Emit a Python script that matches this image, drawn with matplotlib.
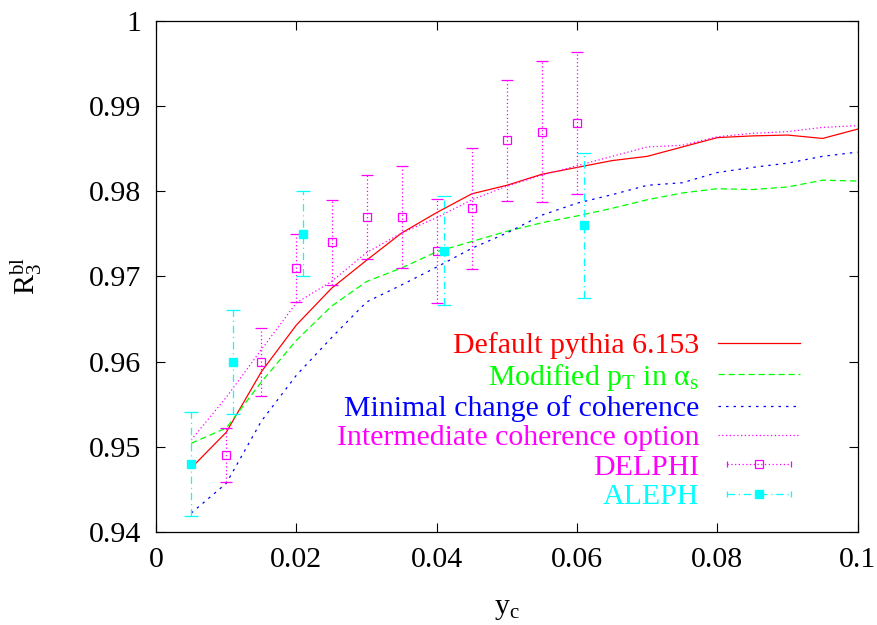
import matplotlib
matplotlib.use('Agg')
import matplotlib.pyplot as plt
from matplotlib.lines import Line2D
from matplotlib.legend_handler import HandlerLine2D, HandlerTuple

plt.rcParams['font.family'] = ['Liberation Serif', 'DejaVu Serif']
plt.rcParams['mathtext.fontset'] = 'custom'
plt.rcParams['mathtext.rm'] = 'Liberation Serif'
plt.rcParams['mathtext.it'] = 'Liberation Serif'

# y_cut values of the MC curves
yc = [0.005, 0.010, 0.015, 0.020, 0.025, 0.030, 0.035, 0.040, 0.045, 0.050,
      0.055, 0.060, 0.065, 0.070, 0.075, 0.080, 0.085, 0.090, 0.095, 0.100]

r_default = [0.9475, 0.9517, 0.9588, 0.9643, 0.9686, 0.9719, 0.9751, 0.9775, 0.9797, 0.9807,
             0.9820, 0.9828, 0.9836, 0.9841, 0.9852, 0.9863, 0.9865, 0.9866, 0.9862, 0.9873]
r_modpt = [0.9504, 0.9522, 0.9576, 0.9625, 0.9665, 0.9694, 0.9710, 0.9729, 0.9741, 0.9753,
           0.9763, 0.9771, 0.9780, 0.9790, 0.9798, 0.9803, 0.9802, 0.9805, 0.9813, 0.9812]
r_mincoh = [0.9422, 0.9457, 0.9530, 0.9584, 0.9628, 0.9670, 0.9690, 0.9711, 0.9733, 0.9751,
            0.9772, 0.9786, 0.9796, 0.9807, 0.9810, 0.9822, 0.9828, 0.9833, 0.9841, 0.9846]
r_intcoh = [0.9508, 0.9558, 0.9614, 0.9669, 0.9694, 0.9728, 0.9751, 0.9769, 0.9790, 0.9806,
            0.9819, 0.9830, 0.9841, 0.9852, 0.9854, 0.9864, 0.9868, 0.9870, 0.9875, 0.9877]

# DELPHI data
delphi_x = [0.010, 0.015, 0.020, 0.025, 0.030, 0.035, 0.040, 0.045, 0.050, 0.055, 0.060]
delphi_y = [0.949, 0.960, 0.971, 0.974, 0.977, 0.977, 0.973, 0.978, 0.986, 0.987, 0.988]
delphi_err = [0.0032, 0.0040, 0.0040, 0.0050, 0.0049, 0.0060, 0.0061, 0.0071, 0.0071, 0.0083, 0.0083]

# ALEPH data
aleph_x = [0.005, 0.011, 0.021, 0.041, 0.061]
aleph_y = [0.948, 0.960, 0.975, 0.973, 0.976]
aleph_err = [0.0061, 0.0061, 0.0050, 0.0064, 0.0085]

labels = ['Default pythia 6.153', r'Modified p$_\mathrm{T}$ in α$_\mathrm{s}$',
          'Minimal change of coherence', 'Intermediate coherence option',
          'DELPHI', 'ALEPH']
colors = ['#ff0000', '#00ff00', '#0000ff', '#ff00ff', '#ff00ff', '#00ffff']

fs = 21.5

fig = plt.figure(figsize=(8.77, 6.25), dpi=100)
ax = fig.add_axes([0.178, 0.149, 0.800, 0.8175])

lw = 0.9
l1, = ax.plot(yc, r_default, color=colors[0], lw=lw, ls='-')
l2, = ax.plot(yc, r_modpt, color=colors[1], lw=lw, ls=(0, (5, 3)))
l3, = ax.plot(yc, r_mincoh, color=colors[2], lw=lw, ls=(0, (2, 4)))
l4, = ax.plot(yc, r_intcoh, color=colors[3], lw=lw, ls=(0, (1, 2)))

ed = ax.errorbar(delphi_x, delphi_y, yerr=delphi_err, fmt='s', mfc='none', mec=colors[4],
                 ms=6, mew=0.9, ecolor=colors[4], elinewidth=lw, capsize=4, capthick=lw)
ed[2][0].set_linestyle((0, (1, 2)))
ea = ax.errorbar(aleph_x, aleph_y, yerr=aleph_err, fmt='s', mfc=colors[5], mec=colors[5],
                 ms=5.5, ecolor=colors[5], elinewidth=lw, capsize=5, capthick=lw)
ea[2][0].set_linestyle((0, (6, 3, 1, 3)))

ax.set_xlim(0, 0.1)
ax.set_ylim(0.94, 1.0)
ax.set_xticks([0, 0.02, 0.04, 0.06, 0.08, 0.1])
ax.set_xticklabels(['0', '0.02', '0.04', '0.06', '0.08', '0.1'])
ax.set_yticks([0.94, 0.95, 0.96, 0.97, 0.98, 0.99, 1.0])
ax.set_yticklabels(['0.94', '0.95', '0.96', '0.97', '0.98', '0.99', '1'])
ax.tick_params(direction='in', length=6.5, width=0.8, top=True, right=True,
               labelsize=fs, pad=11)
for s in ax.spines.values():
    s.set_linewidth(0.9)

ax.set_xlabel(r'y$_\mathrm{c}$', fontsize=fs)
ax.set_ylabel(r'R$_3^{\mathrm{bl}}$', fontsize=fs)
ax.xaxis.set_label_coords(0.5, -0.125)
ax.yaxis.set_label_coords(-0.160, 0.5)

# legend handles in gnuplot style
d_line = Line2D([], [], color=colors[4], lw=lw, ls=(0, (1, 2)), marker='|', ms=5, mew=lw)
d_mark = Line2D([], [], color=colors[4], ls='none', marker='s', mfc='none', ms=6, mew=0.9)
a_line = Line2D([], [], color=colors[5], lw=lw, ls=(0, (6, 3, 1, 3)), marker='|', ms=5, mew=lw)
a_mark = Line2D([], [], color=colors[5], ls='none', marker='s', ms=5.5)
handles = [l1, l2, l3, l4, (d_line, d_mark), (a_line, a_mark)]
hmap = {d_line: HandlerLine2D(numpoints=2), a_line: HandlerLine2D(numpoints=2),
        tuple: HandlerTuple(ndivide=1, pad=0)}
leg = ax.legend(handles, labels, handler_map=hmap, markerfirst=False, frameon=False,
                fontsize=fs, handlelength=2.75, handletextpad=0.63, labelspacing=0.08,
                loc='lower right', bbox_to_anchor=(800 / 877, 115 / 625),
                bbox_transform=fig.transFigure, borderpad=0, borderaxespad=0)
for t, c in zip(leg.get_texts(), colors):
    t.set_color(c)

fig.savefig('out.png', dpi=100)
